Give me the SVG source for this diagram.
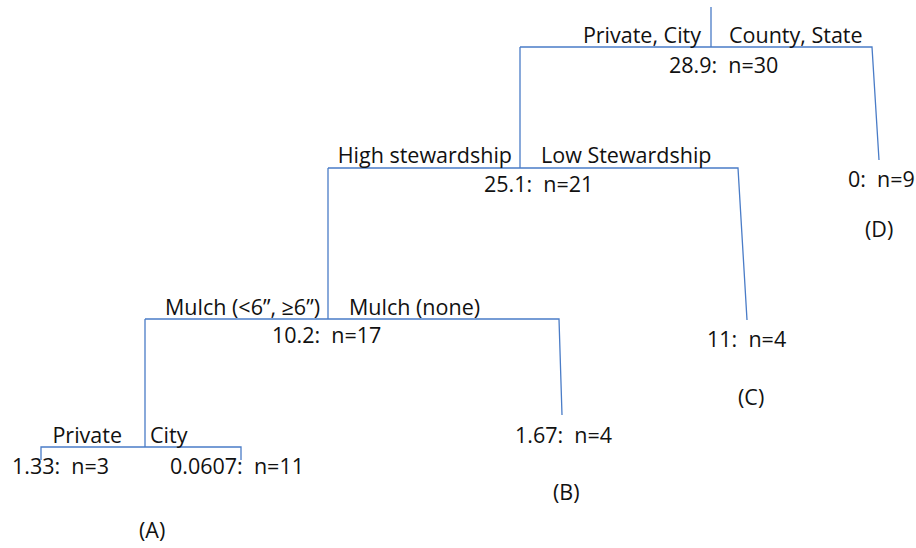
<svg xmlns="http://www.w3.org/2000/svg" width="916" height="548" viewBox="0 0 916 548">
<style>
text{font-family:"Open Sans","Liberation Sans",sans-serif;font-size:21.5px;fill:#111;white-space:pre}
.c{fill:none;stroke:#4a7cc7;stroke-width:1.3}
</style>
<rect width="916" height="548" fill="#fff"/>
<g id="connectors">
<path class="c" d="M711 7V47M520 47H872L879 160M520 47V168"/>
<path class="c" d="M328 168H738L747 320M328 168V319"/>
<path class="c" d="M145 319H559L562 415M145 319V447"/>
<path class="c" d="M41 460V447H241V460"/>
</g>
<g id="root">
<text x="701" y="43" text-anchor="end">Private, City</text>
<text x="729" y="43">County, State</text>
<text x="669" y="73">28.9:  n=30</text>
</g>
<g id="node-21">
<text x="512" y="163" text-anchor="end">High stewardship</text>
<text x="541" y="163">Low Stewardship</text>
<text x="484" y="192">25.1:  n=21</text>
</g>
<g id="node-17">
<text x="320" y="315" text-anchor="end">Mulch (&lt;6”, ≥6”)</text>
<text x="349" y="315">Mulch (none)</text>
<text x="272" y="343">10.2:  n=17</text>
</g>
<g id="node-A">
<text x="122" y="443" text-anchor="end">Private</text>
<text x="150" y="443">City</text>
<text x="12" y="474">1.33:  n=3</text>
<text x="170" y="474">0.0607:  n=11</text>
<text x="139" y="538">(A)</text>
</g>
<g id="leaf-B">
<text x="515" y="443">1.67:  n=4</text>
<text x="553" y="500">(B)</text>
</g>
<g id="leaf-C">
<text x="707" y="347">11:  n=4</text>
<text x="738" y="405">(C)</text>
</g>
<g id="leaf-D">
<text x="848" y="187">0:  n=9</text>
<text x="865" y="237">(D)</text>
</g>
</svg>
